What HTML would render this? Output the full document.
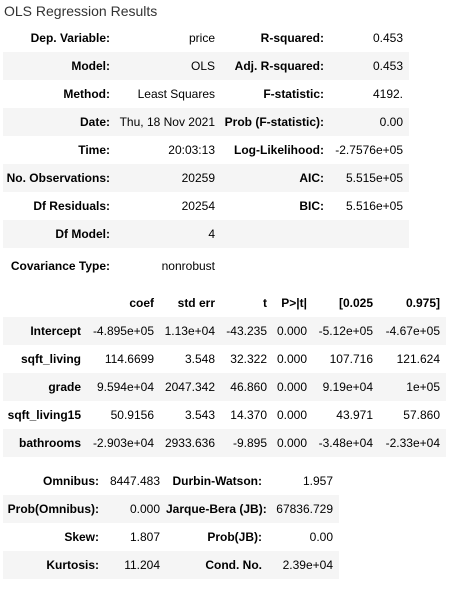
<!DOCTYPE html>
<html><head><meta charset="utf-8"><style>
body{margin:0;width:475px;height:591px;background:#fff;font-family:"Liberation Sans",sans-serif;color:#000;position:relative;overflow:hidden}
.title{position:absolute;left:4px;top:3px;font-size:14px;color:#333}
table{position:absolute;left:3px;border-collapse:collapse;font-size:12px;table-layout:fixed}
td,th{padding:0 6px 0 0;text-align:right;white-space:nowrap;height:28px;line-height:28px;overflow:visible}
th{font-weight:bold}
tr.g{background:#f5f5f5}
</style></head><body>
<div class="title">OLS Regression Results</div>

<table style="top:24px;width:406px">
<colgroup><col style="width:113px"><col style="width:105px"><col style="width:109px"><col style="width:79px"></colgroup>
<tr><th>Dep. Variable:</th><td>price</td><th>R-squared:</th><td>0.453</td></tr>
<tr class="g"><th>Model:</th><td>OLS</td><th>Adj. R-squared:</th><td>0.453</td></tr>
<tr><th>Method:</th><td>Least Squares</td><th>F-statistic:</th><td>4192.</td></tr>
<tr class="g"><th>Date:</th><td>Thu, 18 Nov 2021</td><th>Prob (F-statistic):</th><td>0.00</td></tr>
<tr><th>Time:</th><td>20:03:13</td><th>Log-Likelihood:</th><td>-2.7576e+05</td></tr>
<tr class="g"><th>No. Observations:</th><td>20259</td><th>AIC:</th><td>5.515e+05</td></tr>
<tr><th>Df Residuals:</th><td>20254</td><th>BIC:</th><td>5.516e+05</td></tr>
<tr class="g"><th>Df Model:</th><td>4</td><th></th><td></td></tr>
<tr><th style="height:34px;line-height:36px">Covariance Type:</th><td style="line-height:36px">nonrobust</td><th></th><td></td></tr>
</table>

<table style="top:289px;width:443px">
<colgroup><col style="width:84px"><col style="width:73px"><col style="width:61px"><col style="width:52px"><col style="width:40px"><col style="width:66px"><col style="width:67px"></colgroup>
<tr><th></th><th>coef</th><th>std err</th><th>t</th><th>P&gt;|t|</th><th>[0.025</th><th>0.975]</th></tr>
<tr class="g"><th>Intercept</th><td>-4.895e+05</td><td>1.13e+04</td><td>-43.235</td><td>0.000</td><td>-5.12e+05</td><td>-4.67e+05</td></tr>
<tr><th>sqft_living</th><td>114.6699</td><td>3.548</td><td>32.322</td><td>0.000</td><td>107.716</td><td>121.624</td></tr>
<tr class="g"><th>grade</th><td>9.594e+04</td><td>2047.342</td><td>46.860</td><td>0.000</td><td>9.19e+04</td><td>1e+05</td></tr>
<tr><th>sqft_living15</th><td>50.9156</td><td>3.543</td><td>14.370</td><td>0.000</td><td>43.971</td><td>57.860</td></tr>
<tr class="g"><th>bathrooms</th><td>-2.903e+04</td><td>2933.636</td><td>-9.895</td><td>0.000</td><td>-3.48e+04</td><td>-2.33e+04</td></tr>
</table>

<table style="top:467px;width:336px">
<colgroup><col style="width:102px"><col style="width:61px"><col style="width:102px"><col style="width:71px"></colgroup>
<tr><th>Omnibus:</th><td>8447.483</td><th>Durbin-Watson:</th><td>1.957</td></tr>
<tr class="g"><th>Prob(Omnibus):</th><td>0.000</td><th>Jarque-Bera (JB):</th><td>67836.729</td></tr>
<tr><th>Skew:</th><td>1.807</td><th>Prob(JB):</th><td>0.00</td></tr>
<tr class="g"><th>Kurtosis:</th><td>11.204</td><th>Cond. No.</th><td>2.39e+04</td></tr>
</table>
</body></html>
